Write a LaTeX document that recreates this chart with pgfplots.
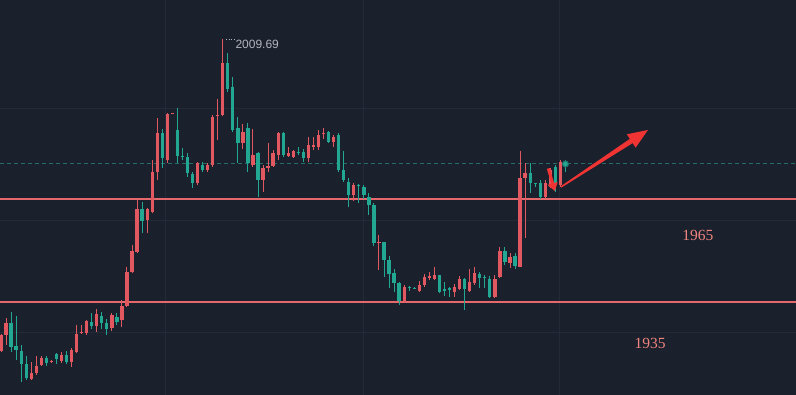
\documentclass[border=0pt]{standalone}
\usepackage{pgfplots}
\pgfplotsset{compat=1.18}
\usepackage{pgfplotstable}
\usepackage{fontspec}
\setmainfont{Liberation Sans}
\newfontfamily\numserif{Liberation Serif}
\usetikzlibrary{arrows.meta}
\definecolor{bgc}{RGB}{27,32,45}
\definecolor{gridc}{RGB}{36,42,56}
\definecolor{upc}{RGB}{226,88,96}
\definecolor{dnc}{RGB}{34,168,146}
\definecolor{levc}{RGB}{228,104,108}
\definecolor{labc}{RGB}{240,132,126}
\definecolor{arrc}{RGB}{240,52,52}
\definecolor{curc}{RGB}{38,108,104}
\definecolor{hic}{RGB}{178,181,190}

\pgfplotstableread{
i o h l c
0 1920.73 1925.68 1920.44 1925.39
1 1925.39 1930.34 1922.48 1928.88
6 1912.57 1917.52 1912.28 1914.32
7 1914.32 1919.27 1913.74 1916.36
8 1916.65 1919.27 1916.36 1918.69
10 1917.52 1918.11 1917.23 1917.82
12 1917.82 1920.44 1917.23 1919.56
14 1917.52 1921.60 1916.07 1921.02
15 1920.44 1928.30 1920.15 1925.68
16 1925.97 1928.30 1925.68 1926.26
17 1925.97 1929.75 1925.39 1929.46
19 1928.01 1932.96 1926.26 1931.50
22 1927.42 1931.79 1926.55 1931.21
24 1929.75 1935.58 1927.72 1933.83
25 1933.83 1945.20 1933.54 1943.74
26 1943.74 1951.60 1943.45 1949.86
27 1949.56 1964.71 1949.27 1962.09
29 1958.88 1962.38 1955.10 1962.09
30 1961.21 1976.36 1960.92 1972.86
31 1972.86 1988.59 1970.53 1984.22
33 1976.36 1990.04 1975.48 1989.75
34 1989.65 1989.90 1989.65 1989.90
39 1969.66 1975.77 1969.07 1975.48
41 1973.44 1975.48 1972.86 1974.90
42 1974.90 1989.46 1974.32 1988.88
43 1989.10 1994.12 1982.18 1989.35
44 1989.46 2011.60 1989.17 2004.61
48 1981.31 1986.84 1979.56 1984.51
50 1974.90 1985.38 1974.32 1977.81
52 1970.53 1974.90 1967.04 1974.03
53 1974.03 1981.31 1972.86 1974.61
54 1974.61 1979.27 1974.32 1978.39
55 1977.81 1984.51 1976.36 1984.22
57 1977.52 1980.14 1977.23 1978.39
58 1977.23 1979.27 1976.94 1978.98
61 1976.94 1983.05 1975.77 1980.72
62 1980.14 1983.05 1979.27 1980.72
63 1980.14 1985.09 1979.27 1983.64
64 1983.93 1985.68 1982.47 1984.22
66 1981.60 1983.64 1980.14 1983.05
70 1966.16 1969.66 1964.42 1969.07
75 1952.35 1954.51 1944.32 1952.60
80 1935.29 1939.95 1934.71 1939.37
83 1938.21 1941.12 1937.91 1939.95
84 1939.95 1943.16 1939.37 1942.28
85 1941.99 1943.74 1941.41 1942.57
86 1941.70 1945.20 1941.41 1942.87
90 1937.91 1940.24 1936.46 1939.37
91 1938.79 1942.57 1938.50 1941.70
93 1938.21 1944.61 1937.91 1940.83
94 1940.54 1945.20 1939.95 1943.45
98 1936.46 1942.87 1936.17 1941.70
99 1942.28 1951.02 1941.99 1949.86
101 1946.36 1949.27 1944.90 1948.11
103 1945.20 1978.98 1945.20 1971.11
104 1971.11 1975.48 1953.64 1972.57
108 1965.58 1970.53 1965.29 1969.66
109 1968.49 1974.03 1968.20 1973.44
111 1969.07 1976.36 1968.49 1975.77
}\up

\pgfplotstableread{
i o h l c
2 1928.88 1932.08 1920.44 1921.89
3 1922.18 1930.92 1918.11 1921.02
4 1920.73 1922.48 1911.70 1916.94
5 1916.94 1919.27 1912.28 1912.87
9 1918.69 1919.27 1916.36 1917.23
11 1919.85 1920.15 1916.94 1918.40
13 1919.56 1920.73 1916.94 1917.52
18 1929.17 1931.79 1927.13 1928.01
20 1930.92 1932.08 1927.13 1928.88
21 1928.88 1930.04 1925.39 1927.13
23 1930.63 1931.79 1928.30 1929.17
28 1962.09 1964.13 1955.10 1958.59
32 1984.22 1985.38 1974.03 1976.94
35 1985.09 1991.50 1975.48 1977.52
36 1977.52 1979.85 1976.36 1977.23
37 1977.23 1978.39 1971.40 1972.57
38 1972.28 1972.86 1968.20 1969.66
40 1974.90 1975.77 1972.86 1973.44
45 2004.61 2007.52 1996.16 1997.04
46 1997.62 2000.53 1984.51 1985.09
47 1985.68 1988.88 1975.48 1981.31
49 1985.68 1987.13 1972.86 1975.48
51 1978.39 1978.69 1965.58 1970.53
56 1984.22 1984.51 1977.23 1977.81
59 1978.69 1980.14 1977.81 1978.39
60 1978.69 1979.56 1975.77 1976.94
65 1984.51 1984.80 1981.31 1981.60
67 1983.64 1984.22 1972.86 1973.44
68 1973.44 1978.98 1969.95 1970.53
69 1969.95 1971.11 1962.67 1966.16
71 1969.10 1969.37 1963.84 1968.85
72 1968.49 1969.07 1965.00 1966.16
73 1965.58 1966.74 1960.34 1963.25
74 1963.25 1963.84 1951.31 1952.18
76 1952.48 1952.48 1942.28 1947.23
77 1947.23 1948.40 1939.08 1943.16
78 1943.45 1944.61 1937.91 1940.54
79 1940.54 1940.83 1934.12 1935.29
81 1939.45 1939.66 1938.21 1939.20
82 1939.15 1939.37 1938.79 1938.90
87 1942.87 1942.87 1937.62 1937.91
88 1938.79 1940.83 1936.75 1938.21
89 1939.08 1939.37 1936.46 1938.50
92 1941.70 1941.99 1932.67 1938.79
95 1943.16 1943.74 1939.08 1941.99
96 1942.28 1942.87 1939.08 1941.99
97 1941.70 1942.57 1936.17 1936.46
100 1949.86 1951.02 1945.78 1946.65
102 1948.40 1949.27 1944.61 1945.49
105 1972.57 1975.48 1966.74 1969.66
106 1969.75 1969.75 1968.49 1969.55
107 1969.66 1970.53 1965.00 1965.58
110 1974.32 1974.90 1967.04 1969.66
112 1975.48 1976.36 1972.86 1974.90
}\down

\begin{document}
\begin{tikzpicture}
\begin{axis}[
  width=796pt, height=395pt, scale only axis,
  hide axis,
  xmin=-0.2, xmax=157.75,
  ymin=1907.91, ymax=2022.96,
  clip=true,
]
% background and grid
\fill[bgc] (rel axis cs:0,0) rectangle (rel axis cs:1,1);
\draw[gridc, line width=0.9pt] (axis cs:-0.2,1991.50) -- (axis cs:157.75,1991.50);
\draw[gridc, line width=0.9pt] (axis cs:-0.2,1958.88) -- (axis cs:157.75,1958.88);
\draw[gridc, line width=0.9pt] (axis cs:-0.2,1926.26) -- (axis cs:157.75,1926.26);
\draw[gridc, line width=0.9pt] (axis cs:32.54,1907.91) -- (axis cs:32.54,2022.96);
\draw[gridc, line width=0.9pt] (axis cs:71.83,1907.91) -- (axis cs:71.83,2022.96);
\draw[gridc, line width=0.9pt] (axis cs:110.9,1907.91) -- (axis cs:110.9,2022.96);
% current price dashed line
\draw[curc, line width=1pt, dash pattern=on 3.5pt off 3.5pt] (axis cs:-0.2,1975.3) -- (axis cs:157.75,1975.3);
% level lines
\addplot[levc, line width=1.1pt, forget plot] coordinates {(-0.2,1965) (157.75,1965)};
\addplot[levc, line width=1.1pt, forget plot] coordinates {(-0.2,1935) (157.75,1935)};
% wicks
\addplot[draw=none, mark=none, forget plot,
  error bars/.cd, y dir=plus, y explicit, error mark=none,
  error bar style={draw=upc, line width=1pt}]
  table[x=i, y=l, y error plus expr=\thisrow{h}-\thisrow{l}] {\up};
\addplot[draw=none, mark=none, forget plot,
  error bars/.cd, y dir=plus, y explicit, error mark=none,
  error bar style={draw=dnc, line width=1pt}]
  table[x=i, y=l, y error plus expr=\thisrow{h}-\thisrow{l}] {\down};
% bodies
\addplot[draw=none, mark=none, forget plot,
  error bars/.cd, y dir=plus, y explicit, error mark=none,
  error bar style={draw=upc, line width=3.3pt}]
  table[x=i, y=o, y error plus expr=\thisrow{c}-\thisrow{o}] {\up};
\addplot[draw=none, mark=none, forget plot,
  error bars/.cd, y dir=plus, y explicit, error mark=none,
  error bar style={draw=dnc, line width=3.3pt}]
  table[x=i, y=c, y error plus expr=\thisrow{o}-\thisrow{c}] {\down};
% last price dot
\addplot[only marks, mark=*, mark size=3pt, mark options={fill=dnc, draw=dnc!60!bgc, line width=1pt}, forget plot] coordinates {(112,1975.19)};
% high label
\draw[hic, line width=0.8pt, dotted] (axis cs:44.6,2011.35) -- (axis cs:46.3,2011.35);
\node[anchor=west, text=hic, font=\fontsize{12}{14}\selectfont, inner sep=0pt] at (axis cs:46.5,2010.14) {2009.69};
% level labels
\node[text=labc, font=\numserif\fontsize{15.5}{18}\selectfont, inner sep=0pt] at (axis cs:138.3,1954.51) {1965};
\node[text=labc, font=\numserif\fontsize{15.5}{18}\selectfont, inner sep=0pt] at (axis cs:128.8,1923.06) {1935};
% arrows
\draw[arrc, line width=3pt, -{Triangle[length=8pt, width=10pt]}] (axis cs:108.6,1973.9) -- (axis cs:109.9,1967.3);
\fill[arrc] (axis cs:111.03,1968.67) -- (axis cs:124.78,1982.50) -- (axis cs:124.19,1983.84)
  -- (axis cs:128.37,1985.10) -- (axis cs:125.93,1979.94) -- (axis cs:125.34,1981.28)
  -- (axis cs:111.19,1968.32) -- cycle;
\end{axis}
\end{tikzpicture}
\end{document}
